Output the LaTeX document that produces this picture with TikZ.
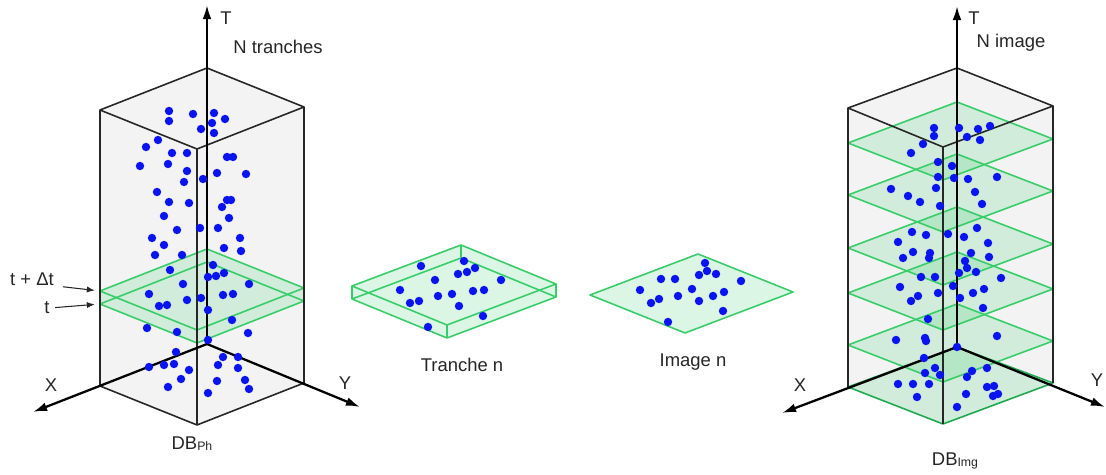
\documentclass[tikz,border=0pt]{standalone}
\usepackage{fontspec}
\setmainfont{Liberation Sans}
\usepackage{xcolor}
\usetikzlibrary{arrows.meta}
\definecolor{planegreen}{RGB}{55,205,105}
\definecolor{planedark}{RGB}{30,170,80}
\definecolor{dotblue}{RGB}{10,20,240}
\definecolor{boxgray}{RGB}{243,243,243}

\begin{document}
\begin{tikzpicture}[x=0.02cm, y=-0.02cm,
  boxfill/.style={fill=boxgray},
  boxedge/.style={draw=black!85, line width=0.9pt, line join=round},
  axis/.style={-{Latex[length=8pt,width=5pt]}, line width=1.3pt, black},
  slabfill/.style={fill=planegreen, fill opacity=0.18},
  slabline/.style={draw=planegreen, line width=0.9pt, line join=round},
  dot/.style={fill=dotblue},
  lbl/.style={font=\fontsize{10.5}{12}\selectfont, text=black!85, inner sep=0pt},
  ptr/.style={-{Latex[length=4.5pt,width=3.5pt]}, line width=0.6pt, black!85}
]
\useasboundingbox (0,0) rectangle (1106,475);

% left box: DB Ph
\coordinate (O1) at (207,344);
\coordinate (L1) at (100,386); \coordinate (R1) at (304,383); \coordinate (F1) at (197,425);
\coordinate (L1t) at (100,110); \coordinate (B1t) at (207,68);
\coordinate (R1t) at (304,107); \coordinate (F1t) at (197,149);
\coordinate (X1) at (33,412); \coordinate (Y1) at (360,407); \coordinate (T1) at (207,5);
\fill[boxfill] (L1t) -- (B1t) -- (R1t) -- (R1) -- (F1) -- (L1) -- cycle;

% slab between t and t + dt
\coordinate (stl) at (100,291); \coordinate (stb) at (207,249);
\coordinate (str) at (304,288); \coordinate (stf) at (197,330);
\coordinate (sbl) at (100,304); \coordinate (sbb) at (207,262);
\coordinate (sbr) at (304,301); \coordinate (sbf) at (197,343);
\fill[slabfill] (stl) -- (stb) -- (str) -- (sbr) -- (sbf) -- (sbl) -- cycle;
\draw[slabline] (stl) -- (stb) -- (str) -- (stf) -- cycle;
\draw[slabline] (sbl) -- (sbb) -- (sbr) -- (sbf) -- cycle;
\draw[slabline] (stl) -- (sbl) (str) -- (sbr) (stf) -- (sbf);

\draw[boxedge] (L1t) -- (B1t) -- (R1t) -- (F1t) -- cycle;
\draw[boxedge] (L1t) -- (L1) -- (F1) -- (R1) -- (R1t) (F1t) -- (F1);
\draw[axis] (O1) -- (X1);
\draw[axis] (O1) -- (Y1);
\draw[axis] (O1) -- (T1);

\foreach \x/\y in {169/111,193/114,214/113,169/121,212/123,225/119,201/129,214/133,
  158/140,146/147,172/153,187/153,227/157,233/157,140/166,168/164,187/171,217/173,
  246/174,184/182,203/179,157/192,169/202,189/203,227/200,231/200,222/207,164/216,
  229/218,177/230,200/228,218/228,152/238,240/238,164/245,224/248,241/251,155/255,
  182/255,213/265,170/270,224/273,183/284,208/277,216/276,249/284,149/294,201/298,
  223/295,233/294,159/306,167/305,187/300,208/310,232/320,147/328,177/332,248/333,
  208/340,176/352,223/357,238/357,149/367,164/365,174/364,189/370,218/365,238/368,
  181/379,217/381,245/380,168/387,249/389,208/393}
  \fill[dot] (\x,\y) circle (2.4pt);

\node[lbl] (tax1) at (226,18) {T};
\node[lbl] (ntr) at (278,47) {N tranches};
\node[lbl] (xax1) at (51,385) {X};
\node[lbl] (yax1) at (345,383) {Y};
\node[lbl] (dbph) at (192,444) {DB\raisebox{-0.6pt}{\fontsize{7}{8}\selectfont Ph}};
\node[lbl] (tdt) at (32,279) {t + Δt};
\node[lbl] (tt) at (47,308) {t};
\draw[ptr, shorten <=5pt, shorten >=3pt] (tdt.south east) -- (stl);
\draw[ptr, shorten <=3pt, shorten >=3pt] (tt.east) -- (sbl);

% tranche n
\coordinate (ttl) at (352,286); \coordinate (ttb) at (461,245);
\coordinate (ttr) at (556,284); \coordinate (ttf) at (447,325);
\coordinate (tbl) at (352,299); \coordinate (tbb) at (461,258);
\coordinate (tbr) at (556,297); \coordinate (tbf) at (447,338);
\fill[slabfill] (ttl) -- (ttb) -- (ttr) -- (tbr) -- (tbf) -- (tbl) -- cycle;
\draw[slabline] (ttl) -- (ttb) -- (ttr) -- (ttf) -- cycle;
\draw[slabline] (tbl) -- (tbb) -- (tbr) -- (tbf) -- cycle;
\draw[slabline] (ttl) -- (tbl) (ttb) -- (tbb) (ttr) -- (tbr) (ttf) -- (tbf);
\foreach \x/\y in {421/266,464/261,458/274,467/272,475/268,435/280,501/280,400/290,
  438/296,452/294,473/291,484/290,410/303,419/301,459/306,483/316,428/327}
  \fill[dot] (\x,\y) circle (2.4pt);
\node[lbl] (trn) at (462,365) {Tranche n};

% image n
\coordinate (il) at (590,295); \coordinate (ib) at (698,254);
\coordinate (ir) at (793,292); \coordinate (if) at (685,333);
\filldraw[slabfill, slabline] (il) -- (ib) -- (ir) -- (if) -- cycle;
\foreach \x/\y in {705/263,707/271,716/274,699/275,661/279,675/279,741/281,640/290,
  692/289,724/292,678/296,713/296,659/299,651/303,699/301,723/311,668/322}
  \fill[dot] (\x,\y) circle (2.4pt);
\node[lbl] (imn) at (693,362) {Image n};

% right box: DB Img
\coordinate (O2) at (957,347);
\coordinate (L2) at (848,387); \coordinate (R2) at (1053,383); \coordinate (F2) at (943,424);
\coordinate (L2t) at (848,108); \coordinate (B2t) at (957,68);
\coordinate (R2t) at (1053,106); \coordinate (F2t) at (943,147);
\coordinate (X2) at (782,413); \coordinate (Y2) at (1105,407); \coordinate (T2) at (957,6);
\fill[boxfill] (L2t) -- (B2t) -- (R2t) -- (R2) -- (F2) -- (L2) -- cycle;
\foreach \l in {143,195,248,293,345}
  \filldraw[slabfill, slabline] (848,\l) -- (957,\l-41) -- (1053,\l-4) -- (943,\l+37) -- cycle;
\filldraw[slabfill, slabline, draw=planedark] (L2) -- (O2) -- (R2) -- (F2) -- cycle;

\draw[boxedge] (L2t) -- (B2t) -- (R2t) -- (F2t) -- cycle;
\draw[boxedge] (L2t) -- (L2) (R2t) -- (R2) (F2t) -- (F2);
\draw[axis] (O2) -- (X2);
\draw[axis] (O2) -- (Y2);
\draw[axis] (O2) -- (T2);

\foreach \x/\y in {934/128,959/128,978/129,990/126,934/136,967/137,980/140,923/144,
  911/153,938/162,952/166,938/177,954/178,968/179,997/177,891/189,936/188,975/192,
  908/196,920/202,940/206,982/204,977/228,912/232,926/235,948/234,964/237,898/242,
  988/243,913/252,930/253,971/253,989/257,903/258,929/258,965/261,967/268,976/272,
  959/273,921/277,935/277,1001/278,953/286,900/287,938/293,973/293,984/289,918/296,
  960/298,911/301,983/308,928/319,925/338,896/340,926/341,997/336,957/347,924/358,
  987/368,935/368,972/371,925/373,940/375,967/377,898/384,913/384,929/384,987/387,
  994/386,993/396,998/394,917/397,966/394,957/407}
  \fill[dot] (\x,\y) circle (2.4pt);

\node[lbl] (tax2) at (974,18) {T};
\node[lbl] (nim) at (1011,43) {N image};
\node[lbl] (xax2) at (800,385) {X};
\node[lbl] (yax2) at (1097,380) {Y};
\node[lbl] (dbimg) at (955,461) {DB\raisebox{-0.6pt}{\fontsize{7}{8}\selectfont Img}};
\end{tikzpicture}
\end{document}
